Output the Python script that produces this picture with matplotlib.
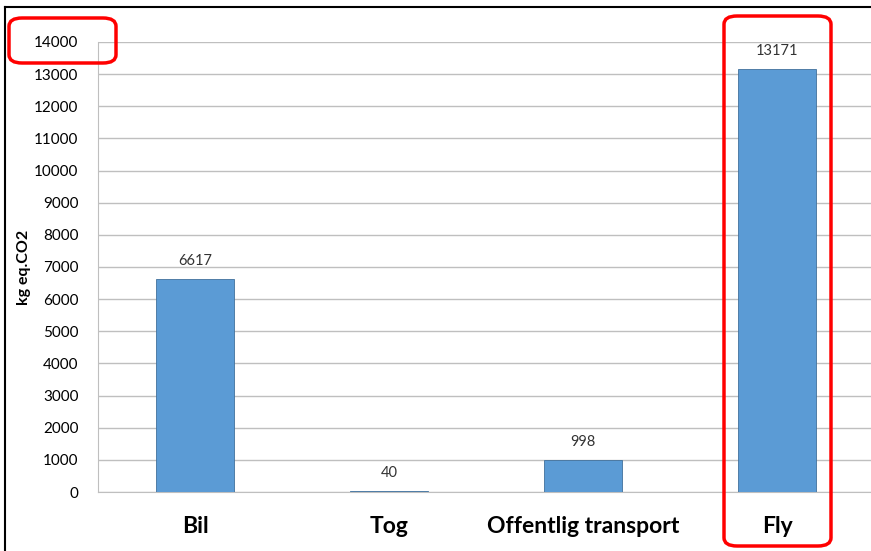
import matplotlib.pyplot as plt
from matplotlib.patches import FancyBboxPatch
from matplotlib.lines import Line2D

categories = ['Bil', 'Tog', 'Offentlig transport', 'Fly']
values = [6617, 40, 998, 13171]
yticks = list(range(0, 14001, 1000))

W, H = 871, 551
fig = plt.figure(figsize=(W / 100, H / 100), dpi=100)
ax = fig.add_axes([98 / W, 1 - 492 / H, 776 / W, 450 / H])

bars = ax.bar(range(len(categories)), values, width=0.4, color='#5b9bd5',
              edgecolor='#41719c', linewidth=0.6, zorder=3)
for i, v in enumerate(values):
    ax.annotate(str(v), (i, v), xytext=(0, 8), textcoords='offset points',
                ha='center', va='bottom', fontsize=10.5, family='Lato',
                color='#333333')

ax.set_xlim(-0.5, 3.5)
ax.set_ylim(0, 14000)
ax.set_yticks(yticks)
ax.set_yticklabels([str(t) for t in yticks], family='Lato', fontsize=11)
ax.set_xticks(range(len(categories)))
ax.set_xticklabels(categories, family='Lato', fontsize=16.5, fontweight='bold')
ax.tick_params(axis='y', length=0, pad=14)
ax.tick_params(axis='x', length=0, pad=17)
ax.grid(axis='y', color='#bfbfbf', linewidth=1, zorder=0)
for s in ['top', 'right']:
    ax.spines[s].set_visible(False)
ax.spines['left'].set_color('#bfbfbf')
ax.spines['bottom'].set_color('#bfbfbf')
ax.set_ylabel('kg eq.CO2', family='Lato', fontsize=11.5, fontweight='bold')
ax.yaxis.set_label_coords(-67 / 776, 0.5)

# outer frame (left and top edges)
fig.add_artist(Line2D([5 / W, 5 / W], [0, 1 - 7 / H], color='black', lw=1.5, transform=fig.transFigure))
fig.add_artist(Line2D([5 / W, 1], [1 - 7 / H, 1 - 7 / H], color='black', lw=1.5, transform=fig.transFigure))

# red highlight boxes
def red_box(x0, y0, x1, y1):
    box = FancyBboxPatch((x0 / W, 1 - y1 / H), (x1 - x0) / W, (y1 - y0) / H,
                         boxstyle='round,pad=0,rounding_size=0.015',
                         transform=fig.transFigure, fill=False,
                         edgecolor='#ff0000', linewidth=2.5, zorder=10)
    fig.add_artist(box)

red_box(9, 18, 116, 63)
red_box(724, 16, 831, 546)

fig.savefig('out.png', dpi=100)
